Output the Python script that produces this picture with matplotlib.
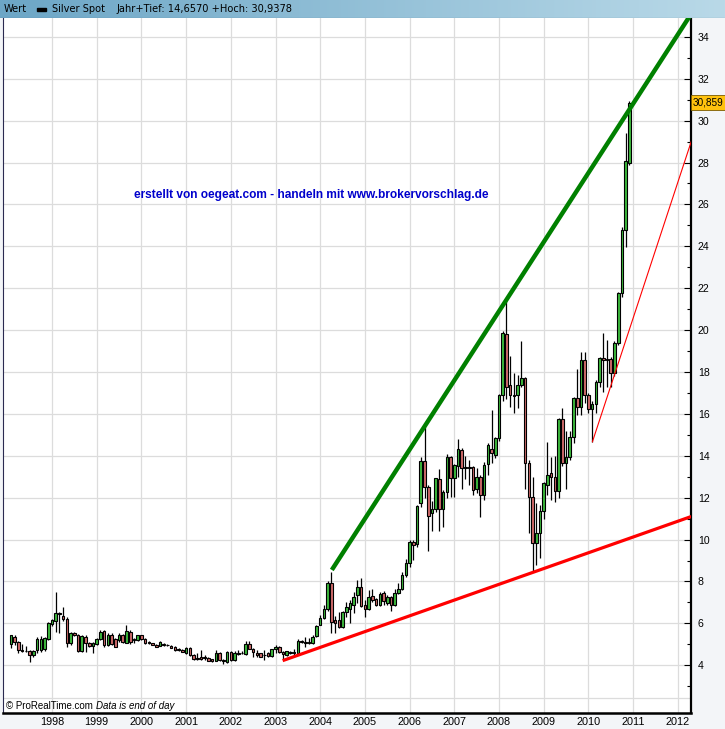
import matplotlib
matplotlib.use('Agg')
import matplotlib.pyplot as plt
import numpy as np
from matplotlib.patches import Rectangle
from matplotlib.colors import LinearSegmentedColormap

# monthly candles of silver spot, Feb 1997 .. Dec 2010 (USD/oz)
first_year, first_month = 1997, 2

opens = [
    5.00, 5.37, 5.11, 4.73, 4.70, 4.68, 4.49, 4.72, 4.73, 4.76, 5.27,
    5.97, 6.13, 6.48, 6.35, 6.23, 5.08, 5.53, 5.43, 4.68, 5.37, 5.08, 4.92,
    5.02, 5.24, 5.64, 4.98, 5.43, 5.24, 5.21, 5.43, 5.08, 5.61, 5.20, 5.21,
    5.43, 5.24, 5.11, 5.05, 4.98, 4.92, 5.02, 4.98, 4.94, 4.89, 4.79, 4.73,
    4.57, 4.83, 4.49, 4.35, 4.38, 4.38, 4.35, 4.29, 4.22, 4.60, 4.25, 4.16,
    4.64, 4.25, 4.60, 4.57, 4.54, 5.02, 4.79, 4.57, 4.57, 4.51, 4.57, 4.44,
    4.76, 4.89, 4.64, 4.51, 4.60, 4.64, 4.60, 5.18, 5.13, 5.08, 5.05, 5.40,
    5.94, 6.26, 6.67, 7.91, 6.16, 6.16, 5.84, 6.54, 6.70, 6.89, 7.34, 7.75,
    6.86, 6.70, 7.31, 7.15, 6.89, 7.44, 6.99, 7.25, 6.89, 7.44, 7.63, 8.33,
    8.90, 9.89, 9.79, 11.73, 13.74, 12.53, 11.29, 11.45, 12.88, 11.45, 12.29, 13.93,
    12.93, 13.51, 14.28, 13.42, 13.45, 13.45, 12.40, 13.00, 12.11, 13.60, 14.30, 14.04,
    14.83, 16.90, 19.80, 17.37, 16.90, 16.90, 17.40, 17.70, 13.67, 12.02, 9.85, 10.30,
    11.38, 12.60, 13.20, 13.00, 12.34, 15.74, 13.67, 13.96, 14.88, 16.74, 16.31, 18.57,
    16.89, 16.22, 16.47, 17.52, 18.65, 18.60, 18.60, 17.97, 19.37, 21.75, 24.78, 28.00,
]
highs = [
    5.45, 5.45, 5.15, 5.00, 4.90, 4.72, 4.72, 5.37, 5.40, 5.35, 6.05,
    6.19, 7.50, 6.55, 6.77, 6.32, 5.61, 5.60, 5.50, 5.45, 5.42, 5.12, 5.10,
    5.30, 5.69, 5.69, 5.53, 5.53, 5.28, 5.53, 5.50, 5.92, 5.69, 5.30, 5.45,
    5.45, 5.30, 5.15, 5.08, 5.02, 5.15, 5.05, 5.00, 4.98, 4.92, 4.82, 4.76,
    4.86, 4.86, 4.52, 4.57, 4.73, 4.49, 4.38, 4.32, 4.73, 4.64, 4.29, 4.67,
    4.67, 4.67, 4.73, 4.67, 5.18, 5.18, 4.82, 4.73, 4.60, 4.73, 4.62, 4.79,
    4.98, 4.92, 4.67, 4.70, 4.67, 4.76, 5.27, 5.22, 5.37, 5.30, 5.42, 5.92,
    6.40, 6.88, 8.00, 8.47, 6.35, 6.56, 6.60, 7.04, 7.12, 7.51, 8.07, 8.15,
    7.12, 7.60, 7.63, 7.20, 7.50, 7.53, 7.34, 7.30, 7.66, 7.91, 8.45, 9.09,
    9.98, 9.98, 11.65, 13.96, 15.39, 12.60, 11.86, 12.95, 13.35, 12.35, 14.10, 14.00,
    13.60, 14.78, 14.35, 14.00, 13.80, 13.50, 13.40, 13.10, 13.70, 14.60, 16.20, 14.90,
    16.95, 19.97, 21.40, 18.76, 17.94, 17.86, 19.50, 17.75, 13.80, 12.97, 11.73, 11.65,
    12.75, 14.67, 13.96, 14.00, 15.80, 16.30, 15.20, 15.20, 16.80, 18.13, 18.97, 18.97,
    17.00, 16.60, 17.60, 18.70, 19.88, 19.53, 18.70, 19.50, 21.80, 24.90, 29.39, 30.94,
]
lows = [
    4.81, 4.95, 4.60, 4.62, 4.62, 4.14, 4.40, 4.57, 4.65, 4.70, 5.22,
    5.88, 5.58, 5.56, 6.10, 4.89, 4.95, 5.40, 4.62, 4.62, 4.65, 4.85, 4.57,
    4.95, 5.20, 4.89, 4.92, 4.98, 4.86, 5.11, 5.05, 5.05, 5.02, 5.05, 5.18,
    5.20, 5.02, 5.00, 4.95, 4.86, 4.90, 4.92, 4.90, 4.80, 4.70, 4.70, 4.62,
    4.54, 4.45, 4.25, 4.25, 4.25, 4.25, 4.19, 4.15, 4.19, 4.22, 4.05, 4.12,
    4.22, 4.22, 4.48, 4.52, 4.51, 4.76, 4.41, 4.38, 4.38, 4.25, 4.41, 4.41,
    4.57, 4.60, 4.29, 4.45, 4.55, 4.41, 4.57, 5.08, 4.89, 5.00, 5.00, 5.36,
    5.90, 6.20, 6.60, 5.53, 5.53, 5.76, 5.80, 6.32, 6.03, 6.48, 6.96, 6.80,
    6.32, 6.64, 7.02, 6.85, 6.85, 6.86, 6.86, 6.61, 6.85, 7.40, 7.60, 8.23,
    8.71, 9.03, 9.66, 11.57, 11.97, 9.47, 10.43, 11.30, 10.43, 10.60, 12.00, 12.02,
    12.05, 13.00, 12.40, 12.90, 12.60, 12.13, 12.20, 11.06, 11.90, 13.10, 13.64, 13.90,
    14.70, 16.60, 16.70, 16.31, 16.03, 16.27, 17.30, 12.40, 10.30, 8.47, 8.79, 9.10,
    11.00, 12.13, 11.89, 11.80, 12.00, 13.50, 12.40, 13.80, 14.60, 15.95, 15.95, 16.50,
    16.06, 14.66, 16.06, 17.30, 17.06, 17.27, 17.30, 17.80, 19.30, 21.60, 23.95, 27.90,
]
closes = [
    5.43, 5.12, 4.72, 4.68, 4.67, 4.49, 4.68, 5.24, 5.27, 5.29, 6.00,
    6.16, 6.48, 6.45, 6.23, 5.08, 5.53, 5.43, 4.68, 5.40, 5.08, 4.92, 5.08,
    5.24, 5.61, 4.97, 5.43, 5.02, 4.89, 5.43, 5.11, 5.62, 5.11, 5.24, 5.43,
    5.26, 5.05, 5.05, 4.98, 4.89, 5.10, 4.98, 4.96, 4.83, 4.73, 4.73, 4.65,
    4.83, 4.48, 4.29, 4.32, 4.32, 4.33, 4.22, 4.19, 4.60, 4.25, 4.22, 4.64,
    4.25, 4.60, 4.54, 4.60, 5.02, 4.79, 4.64, 4.51, 4.41, 4.48, 4.44, 4.76,
    4.86, 4.64, 4.54, 4.67, 4.64, 4.60, 5.18, 5.13, 5.08, 5.11, 5.37, 5.88,
    6.26, 6.67, 7.91, 6.07, 6.03, 5.84, 6.54, 6.77, 6.96, 7.28, 7.75, 6.83,
    6.70, 7.28, 7.12, 6.89, 7.40, 7.05, 7.25, 6.89, 7.47, 7.63, 8.30, 8.90,
    9.89, 9.76, 11.60, 13.74, 12.53, 11.13, 11.45, 12.93, 11.45, 12.29, 13.93, 12.93,
    13.55, 14.31, 13.40, 13.45, 13.42, 12.37, 13.00, 12.11, 13.55, 14.50, 14.12, 14.83,
    16.90, 19.85, 17.30, 16.90, 16.85, 17.40, 17.70, 13.67, 12.02, 9.85, 10.30, 11.38,
    12.69, 13.08, 13.00, 12.34, 15.74, 13.67, 13.96, 14.88, 16.74, 16.31, 18.57, 16.90,
    16.22, 16.47, 17.52, 18.65, 18.55, 18.55, 17.97, 19.37, 21.75, 24.78, 28.07, 30.86,
]

# hand drawn trend lines (decimal year, price)
upper_line = ([2004.26, 2012.30], [8.55, 35.10])
lower_line = ([2003.16, 2012.30], [4.22, 11.10])
steep_line = ([2010.09, 2012.30], [14.67, 29.00])

year_ticks = list(range(1998, 2013))
price_ticks = list(range(4, 35, 2))
last_label = '30,859'
header_name = 'Silver Spot'
header_info = 'Jahr+Tief: 14,6570 +Hoch: 30,9378'
note = 'erstellt von oegeat.com - handeln mit www.brokervorschlag.de'

W, H = 725, 729
fig = plt.figure(figsize=(W / 100, H / 100), dpi=100, facecolor='#F3F5F8')
ax = fig.add_axes([3 / W, (H - 713) / H, 688 / W, 695 / H])
ax.set_facecolor('white')

o = np.array(opens); hi = np.array(highs); lo = np.array(lows); c = np.array(closes)
n = len(o)
t = first_year + (first_month - 1 + np.arange(n)) / 12.0
up = c >= o
cols = np.where(up, '#3DBA3D', '#D06A6A')

ax.vlines(t, lo, hi, color='black', lw=0.9, zorder=3)
body = np.maximum(np.abs(c - o), 0.02)
ax.bar(t, body, bottom=np.minimum(o, c), width=0.058, color=cols,
       edgecolor='black', linewidth=0.8, zorder=4)

ax.plot(*upper_line, color='#008000', lw=3.2, zorder=5, solid_capstyle='butt')
ax.plot(*lower_line, color='#FF0000', lw=2.3, zorder=5, solid_capstyle='butt')
ax.plot(*steep_line, color='#FF0000', lw=0.8, zorder=5)

ax.set_xlim(1996.904, 2012.295)
ax.set_ylim(1.72, 34.90)

ax.set_xticks(year_ticks)
ax.set_xticklabels([str(y) for y in year_ticks], fontsize=7.8, family='Liberation Sans')
ax.set_yticks(price_ticks)
ax.set_yticks(list(range(3, 35, 2)), minor=True)
ax.yaxis.tick_right()
ax.set_yticklabels([str(p) for p in price_ticks], fontsize=7.6, family='Liberation Sans')
ax.tick_params(axis='y', which='major', direction='in', length=5, width=0.8, pad=5)
ax.tick_params(axis='y', which='minor', direction='in', length=3, width=0.8)
ax.tick_params(axis='x', length=0, pad=3)
ax.grid(True, which='major', color='#DCDCDC', lw=0.9, zorder=0)
ax.set_axisbelow(True)

ax.spines['top'].set_visible(False)
ax.spines['left'].set_color('#2A2A50')
ax.spines['left'].set_linewidth(0.8)
ax.spines['right'].set_linewidth(1.6)
ax.spines['bottom'].set_linewidth(1.8)

# grey band line above the copyright strip
ax.plot([0, 1], [0.0216, 0.0216], transform=ax.transAxes, color='#DCDCDC', lw=0.9, zorder=1)
ax.text(0.004, 0.0105, '\u00a9 ProRealTime.com', transform=ax.transAxes, fontsize=7.0,
        family='Liberation Sans', va='center', ha='left')
ax.text(0.135, 0.0105, 'Data is end of day', transform=ax.transAxes, fontsize=7.0,
        family='Liberation Sans', style='italic', va='center', ha='left')

ax.text(0.4484, 0.7453, note, transform=ax.transAxes, fontsize=8.6, fontweight='bold',
        family='Liberation Sans', color='#0000CC', ha='center', va='center')

# last price tag
ax.annotate(last_label, xy=(1.0, closes[-1]), xycoords=('axes fraction', 'data'),
            xytext=(1.5, 0), textcoords='offset points', fontsize=7.2, family='Liberation Sans',
            va='center', ha='left', annotation_clip=False,
            bbox=dict(boxstyle='square,pad=0.22', fc='#FFC20E', ec='#7A5A00', lw=0.6))

# header bar
hx = fig.add_axes([0, (H - 18) / H, 1, 18 / H])
grad = np.linspace(0, 1, 256).reshape(1, -1)
cm = LinearSegmentedColormap.from_list('hdr', ['#6CA6C6', '#B9D9E8'])
hx.imshow(grad, aspect='auto', cmap=cm, extent=[0, W, 18, 0])
hx.set_xlim(0, W); hx.set_ylim(18, 0)
hx.axis('off')
hx.text(4, 9.5, 'Wert', fontsize=7.1, family='DejaVu Sans', va='center', ha='left')
hx.add_patch(Rectangle((37.5, 8), 9, 3.2, color='black'))
hx.text(52, 9.5, header_name, fontsize=7.1, family='DejaVu Sans', va='center', ha='left')
hx.text(116, 9.5, header_info, fontsize=7.1, family='DejaVu Sans', va='center', ha='left')
hx.plot([0, W], [17.6, 17.6], color='#3A5A70', lw=0.8)

fig.savefig('out.png', dpi=100, facecolor=fig.get_facecolor())
